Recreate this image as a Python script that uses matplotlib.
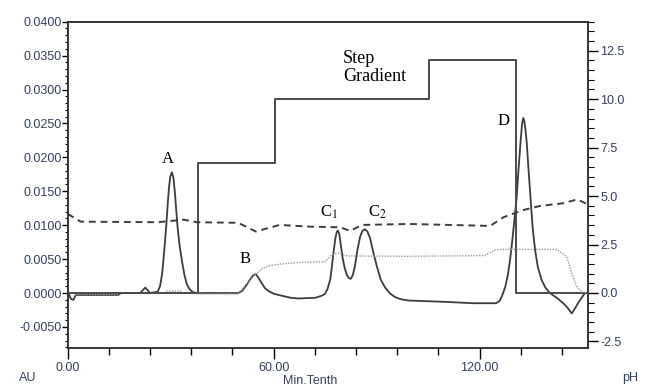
import numpy as np
import matplotlib
matplotlib.use('Agg')
import matplotlib.pyplot as plt
from matplotlib.ticker import MultipleLocator, FormatStrFormatter

plt.rcParams['font.family'] = ['Liberation Sans', 'DejaVu Sans']
plt.rcParams['mathtext.fontset'] = 'stix'

# absorbance trace (AU, left axis)
t_abs = [0, 1.0, 1.7, 2.3, 14.7, 15.5, 21.1, 22.6, 24.0,
         26.2, 26.9, 27.5, 27.9, 28.3, 28.7, 29.1, 29.5, 29.9, 30.35, 30.8, 31.2,
         31.6, 32.0, 32.6, 33.3, 34.0, 34.7, 35.6, 36.6, 37.7,
         49.7, 50.8, 52.0, 53.0, 54.0, 54.8, 55.5, 56.6, 57.5, 58.5, 60.0, 62.4,
         65.0, 67.2, 72.1, 74.0, 75.0,
         75.7, 76.5, 77.0, 77.5, 78.0, 78.4, 78.7, 79.1, 79.6, 80.1, 80.7, 81.3,
         81.9, 82.5, 83.1, 83.7, 84.4, 85.2, 85.9, 86.65, 87.3, 88.1, 89.0, 90.1,
         91.2, 92.5, 94.0, 95.4, 97.0, 99.2, 110.0, 118.0,
         123.1, 124.8, 125.8, 126.5, 127.5, 128.3, 128.9, 129.6, 130.2, 130.8,
         131.4, 132.0, 132.4, 132.76, 133.1, 133.4, 133.75, 134.3, 134.9, 135.5,
         136.2, 137.0, 138.1, 139.2, 140.5, 142.5, 144.4, 145.7, 146.85, 147.3,
         148.0, 148.8, 150.7, 151.6]
au = [0.0002, -0.0009, -0.0010, -0.0003, -0.0003, 0.0, 0.0, 0.0008, 0.0,
      0.0002, 0.0010, 0.0028, 0.0049, 0.0073, 0.0098, 0.0128, 0.0155, 0.0172,
      0.0178, 0.0170, 0.0150, 0.0124, 0.0098, 0.0070, 0.0047, 0.0027, 0.0013,
      0.0005, 0.0001, 0.0,
      0.0, 0.0003, 0.0011, 0.0019, 0.0026, 0.0028, 0.0023, 0.0014, 0.0007,
      0.0003, -0.0001, -0.0004, -0.0007, -0.0008, -0.0007, -0.0004, -0.0001,
      0.0006, 0.0020, 0.0040, 0.0062, 0.0081, 0.0090, 0.0092, 0.0088, 0.0070,
      0.0052, 0.0037, 0.0027, 0.0022, 0.0021, 0.0027, 0.0040, 0.0063, 0.0083,
      0.0092, 0.0094, 0.0091, 0.0081, 0.0061, 0.0039, 0.0020, 0.0008, -0.0001,
      -0.0006, -0.0009, -0.0011, -0.0013, -0.0015,
      -0.0015, -0.0015, -0.0012, -0.0005, 0.0009, 0.0028, 0.0049, 0.0080,
      0.0110, 0.0140, 0.0185, 0.0226, 0.0250, 0.0258, 0.0252, 0.0240, 0.0222,
      0.0180, 0.0137, 0.0095, 0.0063, 0.0038, 0.0019, 0.0008, 0.0, -0.0007,
      -0.0015, -0.0022, -0.0030, -0.0027, -0.0021, -0.0014, 0.0, 0.0]

# step gradient (pH, right axis)
t_step = [0, 37.9, 37.9, 60.3, 60.3, 105.4, 105.4, 130.5, 130.5, 151.6]
ph_step = [0, 0, 6.7, 6.7, 10.0, 10.0, 12.0, 12.0, 0, 0]

# dashed trace
t_dash = [0, 3.8, 26.2, 33.8, 37.7, 49.7, 54.8, 61.7, 70.8, 79.4, 82.3, 85.7,
          99.4, 123.1, 127.0, 132.8, 137.6, 144.4, 148.5, 151.3]
ph_dash = [4.08, 3.68, 3.65, 3.78, 3.65, 3.62, 3.17, 3.51, 3.42, 3.39, 3.20, 3.51,
           3.56, 3.46, 3.91, 4.28, 4.49, 4.63, 4.83, 4.59]

# dotted trace
t_dot = [2.2, 14.7, np.nan, 28.7, 33.3, np.nan, 37.7, 49.7, 52.0, 54.8, 56.9, 59.0,
         62.4, 67.2, 75.0, 76.9, 79.0, 81.5, 99.2, 121.5, 124.5, 126.5, 142.5, 145.4,
         146.85, 148.3, 150.2, 151.6]
ph_dot = [-0.10, -0.10, np.nan, 0.10, 0.10, np.nan, -0.05, -0.05, 0.45, 0.98, 1.28,
          1.42, 1.50, 1.57, 1.62, 1.96, 2.06, 1.91, 1.89, 1.93, 2.22, 2.25, 2.25,
          1.87, 1.02, 0.33, 0.02, 0.02]

lab_col = '#34405a'
line_col = '#3c3c3c'

fig = plt.figure(figsize=(6.46, 3.87), dpi=100)
ax = fig.add_axes([0.1048, 0.1008, 0.8054, 0.8432])
ax2 = ax.twinx()

ax.plot(t_abs, au, color=line_col, lw=1.3, zorder=3)
ax2.plot(t_step, ph_step, color='#4a4a4a', lw=1.4)
ax2.plot(t_dash, ph_dash, color=line_col, lw=1.4, linestyle=(0, (3.5, 2.5)))
ax2.plot(t_dot, ph_dot, color='#999999', lw=1.0, linestyle=(0, (1, 1)))

ax.set_xlim(0, 151.6)
ax.set_ylim(-0.0081, 0.04)
ax2.set_ylim(-2.84, 14.0)

ax.xaxis.set_major_locator(MultipleLocator(60))
ax.xaxis.set_minor_locator(MultipleLocator(12))
ax.xaxis.set_major_formatter(FormatStrFormatter('%.2f'))
ax.yaxis.set_major_locator(MultipleLocator(0.005))
ax.yaxis.set_minor_locator(MultipleLocator(0.001))
ax.yaxis.set_major_formatter(FormatStrFormatter('%.4f'))
ax2.yaxis.set_major_locator(MultipleLocator(2.5))
ax2.yaxis.set_minor_locator(MultipleLocator(0.5))
ax2.yaxis.set_major_formatter(FormatStrFormatter('%.1f'))

ax.tick_params(axis='x', which='major', length=8, width=1, pad=2, labelsize=9, labelcolor=lab_col)
ax.tick_params(axis='x', which='minor', length=5, width=1)
ax.tick_params(axis='y', which='major', length=4, width=1, pad=0.5, labelsize=9, labelcolor=lab_col)
ax.tick_params(axis='y', which='minor', length=2.5, width=0.8)
ax2.tick_params(axis='y', which='major', length=7, width=1, pad=2, labelsize=9, labelcolor=lab_col)
ax2.tick_params(axis='y', which='minor', length=4, width=0.8)
for a in (ax, ax2):
    for s in a.spines.values():
        s.set_color('#303030')
        s.set_linewidth(1.1)

# peak labels
serif = ['Liberation Serif', 'DejaVu Serif']
ax.text(29.3, 0.0192, 'A', family=serif, fontsize=12, ha='center', va='baseline')
ax.text(51.7, 0.0044, 'B', family=serif, fontsize=12, ha='center', va='baseline')
ax.text(73.5, 0.0112, r'C$_{\rm 1}$', family=serif, fontsize=12, ha='left', va='baseline')
ax.text(87.5, 0.0113, r'C$_{\rm 2}$', family=serif, fontsize=12, ha='left', va='baseline')
ax.text(126.9, 0.0248, 'D', family=serif, fontsize=12, ha='center', va='baseline')
ax.text(80.2, 0.0358, 'Step\nGradient', family=serif, fontsize=13, ha='left', va='top',
        linespacing=1.05)

# axis captions
fig.text(28 / 646, 1 - 378 / 387, 'AU', fontsize=9, color=lab_col, ha='center', va='center')
fig.text(310 / 646, 1 - 381 / 387, 'Min.Tenth', fontsize=9, color=lab_col, ha='center', va='center')
fig.text(630 / 646, 1 - 378 / 387, 'pH', fontsize=9, color=lab_col, ha='center', va='center')

fig.savefig('out.png', dpi=100)
